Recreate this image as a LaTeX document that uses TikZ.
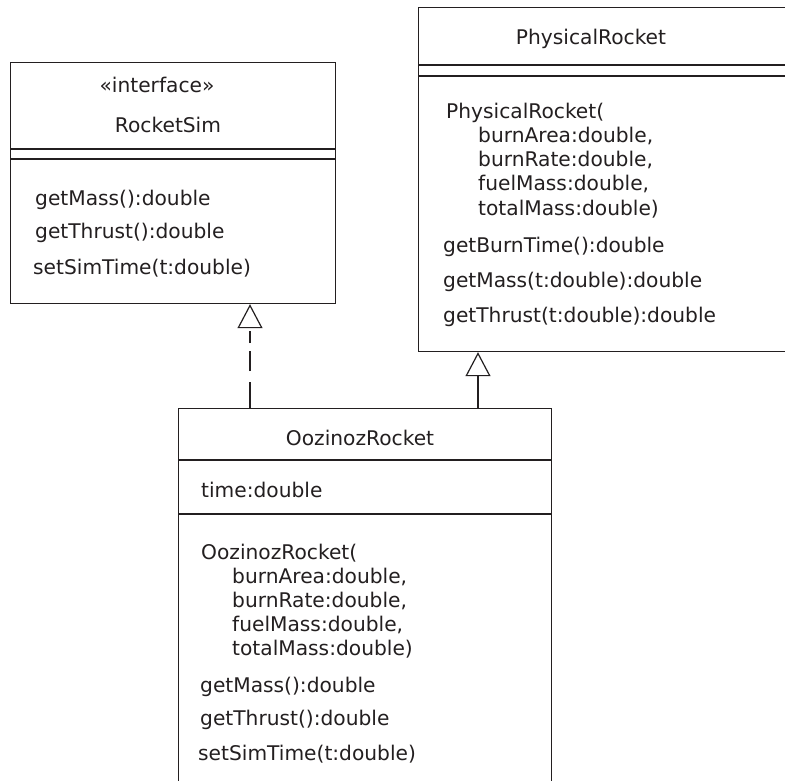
\documentclass[tikz,border=0pt]{standalone}
\usepackage{fontspec}
\setmainfont{DejaVu Sans}
\usetikzlibrary{arrows.meta}
\definecolor{ink}{HTML}{231F20}
\tikzset{
  box/.style={draw=ink, line width=1.2pt, rectangle, inner sep=0pt, anchor=north west},
  septhick/.style={draw=ink, line width=2.2pt},
  septhin/.style={draw=ink, line width=1.2pt},
  txt/.style={anchor=base west, inner sep=0pt, text=ink, font=\fontsize{20.2}{24}\selectfont},
  ttl/.style={anchor=base, inner sep=0pt, text=ink, font=\fontsize{20.2}{24}\selectfont},
  gen/.style={draw=ink, line width=1.2pt, -{Triangle[open, length=24pt, width=25pt, line width=1.2pt]}},
  real/.style={gen, dash pattern=on 26pt off 11pt on 20pt off 8pt on 12pt off 20pt}
}
\begin{document}
\begin{tikzpicture}[x=1pt,y=-1pt]
\useasboundingbox (0,0) rectangle (785,781);
\clip (0,0) rectangle (785,781);
\fill[white] (0,0) rectangle (785,781);

% RocketSim
\node[box, minimum width=325pt, minimum height=241pt] (rs) at (10,62) {};
\draw[septhick] (10,149) -- (335,149);
\draw[septhick] (10,159) -- (335,159);
\node[ttl] (rsst) at (157,93) {«interface»};
\node[ttl] (rsname) at (168,133) {RocketSim};
\node[txt] (rsm1) at (35,206) {getMass():double};
\node[txt] (rsm2) at (35,238) {getThrust():double};
\node[txt] (rsm3) at (33,274) {setSimTime(t:double)};

% PhysicalRocket
\node[box, minimum width=400pt, minimum height=344pt] (pr) at (418,7) {};
\draw[septhick] (418,65) -- (820,65);
\draw[septhick] (418,76) -- (820,76);
\node[ttl] (prname) at (591,45) {PhysicalRocket};
\node[txt] (prc) at (446,119) {PhysicalRocket(};
\node[txt] (prp1) at (478,143) {burnArea:double,};
\node[txt] (prp2) at (478,167) {burnRate:double,};
\node[txt] (prp3) at (478,191) {fuelMass:double,};
\node[txt] (prp4) at (478,215) {totalMass:double)};
\node[txt] (prm1) at (443,252) {getBurnTime():double};
\node[txt] (prm2) at (443,287) {getMass(t:double):double};
\node[txt] (prm3) at (443,322) {getThrust(t:double):double};

% OozinozRocket
\node[box, minimum width=373pt, minimum height=420pt] (oz) at (178,408) {};
\draw[septhin] (178,460) -- (551,460);
\draw[septhin] (178,514) -- (551,514);
\node[ttl] (ozname) at (360,445) {OozinozRocket};
\node[txt] (ozf) at (201,497) {time:double};
\node[txt] (ozc) at (201,559) {OozinozRocket(};
\node[txt] (ozp1) at (232,583) {burnArea:double,};
\node[txt] (ozp2) at (232,607) {burnRate:double,};
\node[txt] (ozp3) at (232,631) {fuelMass:double,};
\node[txt] (ozp4) at (232,655) {totalMass:double)};
\node[txt] (ozm1) at (200,692) {getMass():double};
\node[txt] (ozm2) at (200,725) {getThrust():double};
\node[txt] (ozm3) at (198,760) {setSimTime(t:double)};

% connectors
\coordinate (ozL) at (250,408);
\coordinate (ozR) at (478,408);
\draw[real] (ozL) -- (ozL |- rs.south);
\draw[gen] (ozR) -- (ozR |- pr.south);
\end{tikzpicture}
\end{document}
